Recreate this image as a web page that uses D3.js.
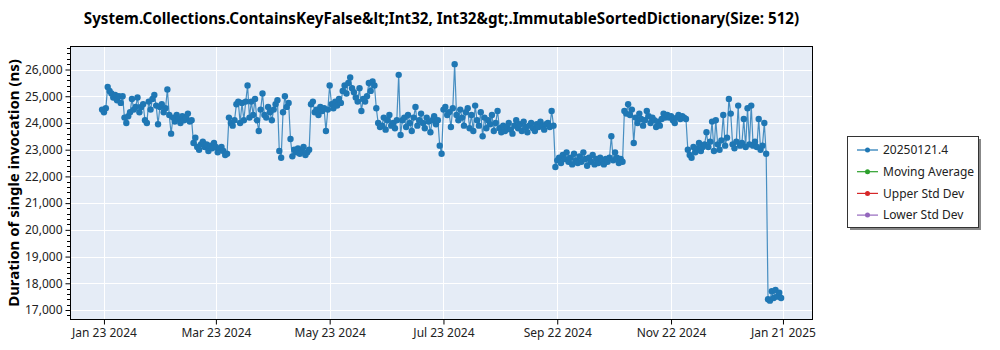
<!DOCTYPE html>
<html>
<head>
<meta charset="utf-8">
<script src="https://cdn.jsdelivr.net/npm/d3@7"></script>
<style>
  body { margin: 0; background: #fff; }
  svg { display: block; font-family: "Noto Sans", "Open Sans", sans-serif; }
</style>
</head>
<body>
<svg id="chart" width="1000" height="350"></svg>
<script>
// ---- chart content ----
const chartTitle = "System.Collections.ContainsKeyFalse&lt;Int32, Int32&gt;.ImmutableSortedDictionary(Size: 512)";
const yAxisTitle = "Duration of single invocation (ns)";

// one benchmark run per day, starting on this date
const firstRunDate = "2024-01-22";

// duration of a single invocation (ns), one value per daily run
const durations = [
  // late Jan – Feb 2024
  24500, 24400, 24550,
  25350, 25200, 25100, 24950, 25050, 24850, 25000, 24750,
  25000,
  24200, 24000, 24250,
  24400, 24900, 24500, 24600, 24950, 24400,
  24600, 24700, 24100, 24000, 24800, 24500, 24900, 25050,
  24650, 23950, 24600, 24700, 24400, 24550, 25250,
  24300, 23600, 24200, 24050, 24300, 24150, 24000, 24250, 24100, 24200, 24350, 24050, 24100,
  // Mar 2024
  23250, 23450, 23100, 23000, 23200, 23300, 23100, 23200, 22950, 23150, 23050, 23250, 23100, 22900, 23000, 23100, 22950, 22800,
  22850,
  24200, 24000, 23900, 24100, 24700, 24800, 24000, 24750, 24100, 24800, 25400,
  // Apr 2024
  24200, 24800, 24300, 24900, 24100, 23700, 24500, 25100, 24300, 24200, 24600, 24400, 24100, 24500, 24700,
  24850, 22950, 22700, 24400, 25000, 24600, 24750, 23400, 22750,
  23000, 22900, 23050, 22850, 22950, 23100, 22800, 22900, 23000,
  // May 2024
  24700, 24800, 24400, 24500, 24300, 24600, 24450, 24550, 23700, 24500, 25400, 24700, 24550, 24800, 24650, 24900, 24750,
  25200, 25400, 25100, 25500, 25700, 25300, 25150, 24950, 24800, 25300, 24450, 24900, 24800, 25000, 25500, 25200, 25550, 25400,
  24550,
  // Jun – Jul 2024
  24000, 23850, 23900, 24200, 23750, 24100, 24300, 23900, 24000, 23800,
  24100, 25800, 23550, 24100, 24200, 23850, 24300, 24000, 23700, 24200,
  24600, 23900, 24100, 24350, 24000, 23800, 24200, 24050, 23650, 24100,
  24250, 23950, 24100, 23150, 22850,
  24500, 24600, 24300, 24400, 23850, 24550, 26200, 24300, 24100,
  // Aug 2024
  24500, 24200, 23900, 24400, 24550, 23800, 24300, 23700, 24650, 24100, 23900, 24400, 23500, 24200, 23800, 24100,
  23950, 24300, 23700, 24000, 24450, 23800, 23650, 23900, 23700, 23850,
  24000, 23750, 23600, 23900, 24100, 23800, 23950, 23700, 24050, 23850,
  23650, 23900, 24000, 23800, 23700, 23950, 23850, 24050, 23900, 23750,
  23950, 24000, 23850, 24450, 23900,
  // late Sep – Oct 2024
  22350, 22600, 22700, 22500, 22800, 22650, 22900, 22550, 22700, 22450,
  22850, 22600, 22500, 22750, 22550, 22900, 22650, 22400, 22700, 22550,
  22800, 22450, 22650, 22500, 22700, 22600, 22450, 22650, 22550, 22700,
  23500, 22600, 22900, 22700, 22500, 22650, 22550,
  // Nov 2024
  24450, 24350, 24700, 24300, 24500, 23250, 24200, 24000, 24350, 24150,
  23900, 24100, 24450, 24250, 24000, 24200, 24100, 23850, 24050, 23900,
  24150, 24350, 24200, 24300, 24200, 24250, 24100, 24000, 24200, 24300,
  24150, 24250, 24200, 24150,
  // Dec 2024
  23000, 22800, 22700, 23100, 22900, 23050, 23250, 22950, 23100,
  23200, 23650, 23100, 23300, 24050, 22950, 24100, 23200, 23000, 23350,
  24300, 23150, 23450, 24900, 24350, 23200, 23050, 23300, 24650, 23150,
  23250, 24150, 23100, 24550, 23200, 24650, 23150, 23300, 23100, 24150,
  23000, 23150, 24000, 22850,
  // Jan 2025
  17400, 17350, 17700, 17450, 17750, 17500, 17650, 17450
];

// x axis tick positions and their labels
const xTickDates = ["2024-01-23", "2024-03-23", "2024-05-23", "2024-07-23", "2024-09-22", "2024-11-22", "2025-01-21"];
const xTickLabels = ["Jan 23 2024", "Mar 23 2024", "May 23 2024", "Jul 23 2024", "Sep 22 2024", "Nov 22 2024", "Jan 21 2025"];

// y axis major ticks (ns)
const yTicks = [17000, 18000, 19000, 20000, 21000, 22000, 23000, 24000, 25000, 26000];

// legend entries
const legendLabels = ["20250121.4", "Moving Average", "Upper Std Dev", "Lower Std Dev"];
const legendColors = ["#1f77b4", "#2ca02c", "#d62728", "#9467bd"];

// ---- layout ----
const plot = { left: 70, right: 813, top: 46, bottom: 320 };
const svg = d3.select("#chart");
const parseDay = d3.utcParse("%Y-%m-%d");
const dayMs = 864e5;

const start = parseDay(firstRunDate);
const points = durations.map((v, i) => ({ date: d3.utcDay.offset(start, i), value: v }));

const firstTick = parseDay(xTickDates[0]);
const lastTick = parseDay(xTickDates[xTickDates.length - 1]);

const x = d3.scaleUtc()
  .domain([new Date(+firstTick - 18.2 * dayMs), new Date(+lastTick + 16.1 * dayMs)])
  .range([plot.left, plot.right]);

const y = d3.scaleLinear()
  .domain([16626, 26880])
  .range([plot.bottom, plot.top]);

// plot background
svg.append("rect")
  .attr("x", plot.left).attr("y", plot.top)
  .attr("width", plot.right - plot.left).attr("height", plot.bottom - plot.top)
  .attr("fill", "#e5ecf6");

// grid lines
const grid = svg.append("g").attr("stroke", "#ffffff").attr("stroke-width", 1);
grid.selectAll("line.h").data(yTicks).join("line")
  .attr("x1", plot.left).attr("x2", plot.right)
  .attr("y1", d => Math.round(y(d)) + 0.5).attr("y2", d => Math.round(y(d)) + 0.5);
grid.selectAll("line.v").data(xTickDates).join("line")
  .attr("y1", plot.top).attr("y2", plot.bottom)
  .attr("x1", d => Math.round(x(parseDay(d))) + 0.5).attr("x2", d => Math.round(x(parseDay(d))) + 0.5);

// data series
svg.append("clipPath").attr("id", "plotClip").append("rect")
  .attr("x", plot.left).attr("y", plot.top)
  .attr("width", plot.right - plot.left).attr("height", plot.bottom - plot.top);

const series = svg.append("g").attr("clip-path", "url(#plotClip)");
series.append("path")
  .datum(points)
  .attr("fill", "none")
  .attr("stroke", "#1f77b4")
  .attr("stroke-opacity", 0.8)
  .attr("stroke-width", 1.2)
  .attr("d", d3.line().x(d => x(d.date)).y(d => y(d.value)));
series.selectAll("circle").data(points).join("circle")
  .attr("cx", d => x(d.date))
  .attr("cy", d => y(d.value))
  .attr("r", 3.2)
  .attr("fill", "#1f77b4");

// frame
svg.append("rect")
  .attr("x", plot.left + 0.5).attr("y", plot.top + 0.5)
  .attr("width", plot.right - plot.left - 1).attr("height", plot.bottom - plot.top - 1)
  .attr("fill", "none").attr("stroke", "#000").attr("stroke-width", 1);

// y axis
const yAxis = svg.append("g").attr("transform", `translate(${plot.left + 0.5},0)`)
  .call(d3.axisLeft(y).tickValues(yTicks).tickSize(5).tickSizeOuter(0).tickFormat(d3.format(",")));
yAxis.select(".domain").remove();
yAxis.selectAll("text").attr("font-size", 12).attr("fill", "#222").attr("x", -8)
  .style("font-family", "'Noto Sans', sans-serif");

const yMinor = d3.range(16800, 26801, 200).filter(v => v % 1000 !== 0);
svg.append("g").attr("stroke", "#000").selectAll("line").data(yMinor).join("line")
  .attr("x1", plot.left - 3).attr("x2", plot.left)
  .attr("y1", d => Math.round(y(d)) + 0.5).attr("y2", d => Math.round(y(d)) + 0.5);

// x axis
const xAxis = svg.append("g").attr("transform", `translate(0,${plot.bottom - 0.5})`)
  .call(d3.axisBottom(x)
    .tickValues(xTickDates.map(parseDay))
    .tickSize(5).tickSizeOuter(0)
    .tickFormat((d, i) => xTickLabels[i]));
xAxis.select(".domain").remove();
xAxis.selectAll("text").attr("font-size", 12).attr("fill", "#222").attr("y", 9)
  .style("font-family", "'Noto Sans', sans-serif");

// shrink/grow a text node to a target width
function fitWidth(sel, width) {
  const node = sel.node();
  const size = parseFloat(sel.attr("font-size"));
  const w = node.getComputedTextLength();
  if (w > 0) sel.attr("font-size", size * width / w);
}

// title
const title = svg.append("text")
  .attr("x", (plot.left + plot.right) / 2).attr("y", 24)
  .attr("text-anchor", "middle")
  .attr("font-size", 15).attr("font-weight", "bold").attr("fill", "#000")
  .text(chartTitle);
fitWidth(title, 716);

// y axis title
const yTitle = svg.append("text")
  .attr("transform", `translate(19,${(plot.top + plot.bottom) / 2}) rotate(-90)`)
  .attr("text-anchor", "middle")
  .attr("font-size", 16).attr("font-weight", "bold").attr("fill", "#000")
  .text(yAxisTitle);
fitWidth(yTitle, 248);

// legend
const lg = svg.append("g").attr("transform", "translate(847,136)");
lg.append("rect").attr("x", 3).attr("y", 3).attr("width", 131).attr("height", 91)
  .attr("fill", "#555").attr("opacity", 0.7);
lg.append("rect").attr("x", 0.5).attr("y", 0.5).attr("width", 131).attr("height", 91)
  .attr("fill", "#fff").attr("stroke", "#333");
const items = lg.selectAll("g.item").data(legendLabels).join("g")
  .attr("transform", (d, i) => `translate(0,${14 + i * 21.7})`);
items.append("line").attr("x1", 10).attr("x2", 31).attr("y1", 0).attr("y2", 0)
  .attr("stroke", (d, i) => legendColors[i]).attr("stroke-width", 1.2);
items.append("circle").attr("cx", 20.5).attr("cy", 0).attr("r", 2.5)
  .attr("fill", (d, i) => legendColors[i]);
items.append("text").attr("x", 36).attr("y", 0).attr("dy", "0.35em")
  .attr("font-size", 12).attr("fill", "#222").text(d => d);
</script>
</body>
</html>
